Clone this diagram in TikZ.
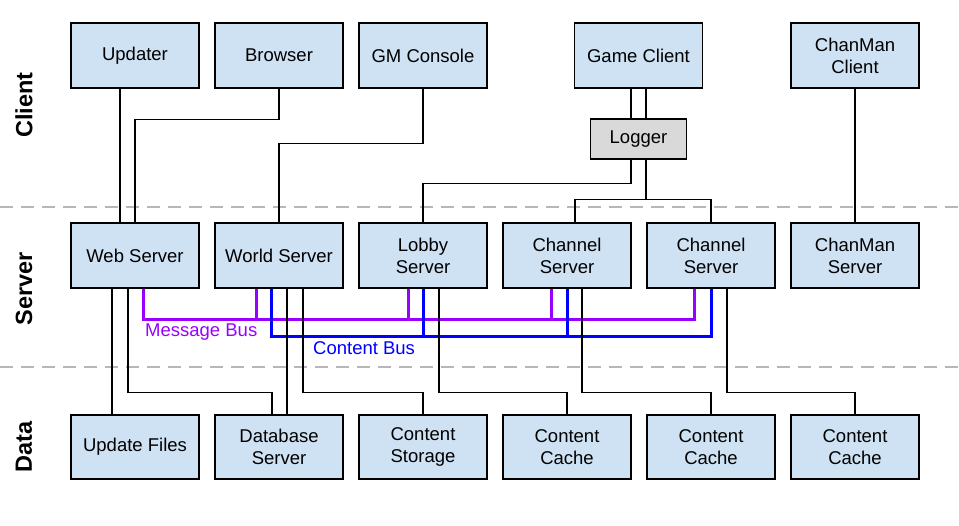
\documentclass[tikz,border=0pt]{standalone}
\usepackage{fontspec}
\setmainfont{Liberation Sans}
\begin{document}
\begin{tikzpicture}[x=1pt,y=-1pt,
  box/.style={draw=black,line width=1.5pt,fill=boxblue,minimum width=128pt,minimum height=65pt,inner sep=0pt,align=center,font=\fontsize{18.5}{22}\selectfont},
  logbox/.style={box,fill=loggray,minimum width=96pt,minimum height=40pt},
  link/.style={draw=black,line width=1.3pt},
  msg/.style={draw=msgpurple,line width=3pt},
  cnt/.style={draw=cntblue,line width=3pt},
  sep/.style={draw=sepgray,line width=1.8pt,dash pattern=on 13pt off 8pt},
  tier/.style={rotate=90,font=\fontsize{23.5}{28}\selectfont\bfseries},
  buslabel/.style={font=\fontsize{18.5}{22}\selectfont,anchor=west,inner sep=0pt}]
\definecolor{boxblue}{HTML}{CFE2F3}
\definecolor{loggray}{HTML}{D9D9D9}
\definecolor{msgpurple}{HTML}{9900FF}
\definecolor{cntblue}{HTML}{0000FF}
\definecolor{sepgray}{HTML}{B7B7B7}
\useasboundingbox[fill=white] (0,0) rectangle (959,526);

% separators
\coordinate (s1a) at (0,207); \coordinate (s1b) at (959,207);
\coordinate (s2a) at (0,367); \coordinate (s2b) at (959,367);
\draw[sep] (s1a) -- (s1b);
\draw[sep] (s2a) -- (s2b);

% tier labels
\node[tier] (tclient) at (24,105) {Client};
\node[tier] (tserver) at (24,289) {Server};
\node[tier] (tdata) at (24,447) {Data};

% client row
\node[box] (upd) at (135,55.5) {Updater};
\node[box] (browser) at (279,55.5) {Browser};
\node[box] (gm) at (423,55.5) {GM Console};
\node[box] (game) at (638.5,55.5) {Game Client};
\node[box] (cmc) at (855,55.5) {ChanMan\\Client};
\node[logbox] (logger) at (638.5,139) {Logger};

% server row
\node[box] (web) at (135,255.5) {Web Server};
\node[box] (world) at (279,255.5) {World Server};
\node[box] (lobby) at (423,255.5) {Lobby\\Server};
\node[box] (ch1) at (567,255.5) {Channel\\Server};
\node[box] (ch2) at (711,255.5) {Channel\\Server};
\node[box] (cms) at (855,255.5) {ChanMan\\Server};

% data row
\node[box,minimum height=64pt] (files) at (135,447) {Update Files};
\node[box,minimum height=64pt] (db) at (279,447) {Database\\Server};
\node[box,minimum height=64pt] (store) at (423,447) {Content\\Storage};
\node[box,minimum height=64pt] (cache1) at (567,447) {Content\\Cache};
\node[box,minimum height=64pt] (cache2) at (711,447) {Content\\Cache};
\node[box,minimum height=64pt] (cache3) at (855,447) {Content\\Cache};

% buses
\draw[msg] ([xshift=8pt]web.south) -- ++(0,31) -| ([xshift=-17pt]ch2.south);
\draw[msg] ([xshift=-23pt]world.south) -- ++(0,31);
\draw[msg] ([xshift=-15pt]lobby.south) -- ++(0,31);
\draw[msg] ([xshift=-16pt]ch1.south) -- ++(0,31);
\draw[cnt] ([xshift=-8pt]world.south) -- ++(0,48) -| (ch2.south);
\draw[cnt] (lobby.south) -- ++(0,48);
\draw[cnt] (ch1.south) -- ++(0,48);
\node[buslabel,text=msgpurple] (mbl) at (145,332) {Message Bus};
\node[buslabel,text=cntblue] (cbl) at (313,348) {Content Bus};

% client to server links
\draw[link] ([xshift=-15pt]upd.south) -- ([xshift=-15pt]web.north);
\draw[link] (browser.south) -- ++(0,31) -| (web.north);
\draw[link] (gm.south) -- ++(0,55) -| (world.north);
\draw[link] ([xshift=-7.5pt]game.south) -- ([xshift=-7.5pt]logger.north);
\draw[link] ([xshift=7.5pt]game.south) -- ([xshift=7.5pt]logger.north);
\draw[link] ([xshift=-7.5pt]logger.south) -- ++(0,24) -| (lobby.north);
\draw[link] ([xshift=7.5pt]logger.south) -- ++(0,40) coordinate (split);
\draw[link] ([xshift=8pt]ch1.north) |- (split) -| (ch2.north);
\draw[link] (cmc.south) -- (cms.north);

% server to data links
\draw[link] ([xshift=-23pt]web.south) -- ([xshift=-23pt]files.north);
\draw[link] ([xshift=-7pt]web.south) -- ++(0,104) -| ([xshift=-7pt]db.north);
\draw[link] ([xshift=8pt]world.south) -- ([xshift=8pt]db.north);
\draw[link] ([xshift=24pt]world.south) -- ++(0,104) -| (store.north);
\draw[link] ([xshift=16pt]lobby.south) -- ++(0,104) -| (cache1.north);
\draw[link] ([xshift=15pt]ch1.south) -- ++(0,104) -| (cache2.north);
\draw[link] ([xshift=16pt]ch2.south) -- ++(0,104) -| (cache3.north);
\end{tikzpicture}
\end{document}
